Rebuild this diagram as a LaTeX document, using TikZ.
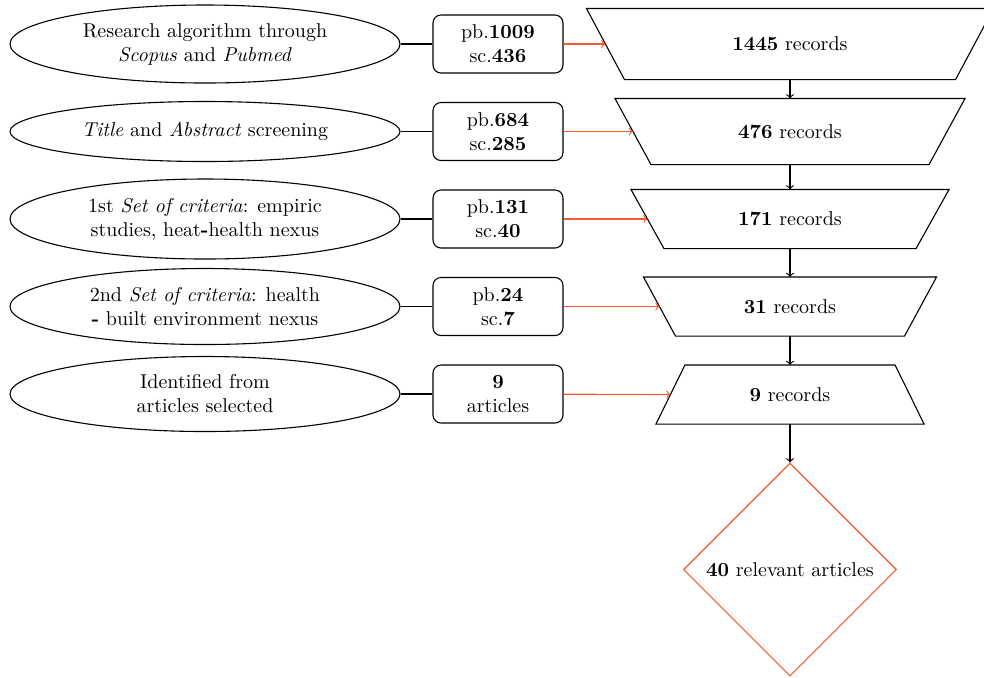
\documentclass[tikz,border=0pt]{standalone}
\usetikzlibrary{shapes.geometric,calc}
\definecolor{accent}{RGB}{242,92,52}
\begin{document}
\begin{tikzpicture}[x=0.5pt,y=-0.5pt,line width=0.55pt,
  ell/.style={ellipse,draw,minimum width=195pt,inner sep=0pt,align=center},
  cnt/.style={draw,rounded corners=4pt,minimum width=65pt,minimum height=29pt,align=center,inner sep=0pt},
  tbox/.style={inner sep=0pt},
  link/.style={line width=0.9pt},
  feed/.style={->,accent},
  flow/.style={->}]
\useasboundingbox (0,0) rectangle (984,677);
% left ellipses
\node[ell,minimum height=39pt] (e1) at (205,44) {Research algorithm through\\\textit{Scopus} and \textit{Pubmed}};
\node[ell,minimum height=30pt] (e2) at (205,131.5) {\textit{Title} and \textit{Abstract} screening};
\node[ell,minimum height=40pt] (e3) at (205,219) {1st \textit{Set of criteria}: empiric\\studies, heat\textbf{-}health nexus};
\node[ell,minimum height=38pt] (e4) at (205,306.5) {2nd \textit{Set of criteria}: health\\\textbf{-} built environment nexus};
\node[ell,minimum height=37.5pt] (e5) at (205,394) {Identified from\\articles selected};
% count boxes
\node[cnt] (b1) at (498,44) {pb.\textbf{1009}\\sc.\textbf{436}};
\node[cnt] (b2) at (498,131.5) {pb.\textbf{684}\\sc.\textbf{285}};
\node[cnt] (b3) at (498,219) {pb.\textbf{131}\\sc.\textbf{40}};
\node[cnt] (b4) at (498,306.5) {pb.\textbf{24}\\sc.\textbf{7}};
\node[cnt] (b5) at (498,394) {\textbf{9}\\articles};
% record stages (trapezia drawn round named nodes)
\node[tbox,minimum width=203pt,minimum height=35pt] (t1) at (790,44) {\textbf{1445} records};
\node[tbox,minimum width=174.5pt,minimum height=32.5pt] (t2) at (790,131.5) {\textbf{476} records};
\node[tbox,minimum width=158.5pt,minimum height=29pt] (t3) at (790,219) {\textbf{171} records};
\node[tbox,minimum width=146pt,minimum height=29pt] (t4) at (790,306.5) {\textbf{31} records};
\node[tbox,minimum width=133.5pt,minimum height=29pt] (t5) at (790,394.5) {\textbf{9} records};
\draw (t1.north west) -- (t1.north east) -- ($(t1.south east)+(-38,0)$) -- ($(t1.south west)+(38,0)$) -- cycle;
\draw (t2.north west) -- (t2.north east) -- ($(t2.south east)+(-36,0)$) -- ($(t2.south west)+(36,0)$) -- cycle;
\draw (t3.north west) -- (t3.north east) -- ($(t3.south east)+(-33,0)$) -- ($(t3.south west)+(33,0)$) -- cycle;
\draw (t4.north west) -- (t4.north east) -- ($(t4.south east)+(-32,0)$) -- ($(t4.south west)+(32,0)$) -- cycle;
\draw ($(t5.north west)+(29,0)$) -- ($(t5.north east)+(-29,0)$) -- (t5.south east) -- (t5.south west) -- cycle;
% result
\node[diamond,draw=accent,aspect=1,minimum width=106.5pt,minimum height=106.5pt,inner sep=0pt] (d) at (790,569.5) {\textbf{40} relevant articles};
% connectors
\foreach \i in {1,...,5} {
  \draw[link] (e\i) -- (b\i);
}
\draw[feed] (b1) -- ($(t1.west)+(19,0)$);
\draw[feed] (b2) -- ($(t2.west)+(18,0)$);
\draw[feed] (b3) -- ($(t3.west)+(16.5,0)$);
\draw[feed] (b4) -- ($(t4.west)+(16,0)$);
\draw[feed] (b5) -- ($(t5.west)+(14.5,0)$);
\draw[flow] (t1) -- (t2);
\draw[flow] (t2) -- (t3);
\draw[flow] (t3) -- (t4);
\draw[flow] (t4) -- (t5);
\draw[flow] (t5) -- (d);
\end{tikzpicture}
\end{document}
